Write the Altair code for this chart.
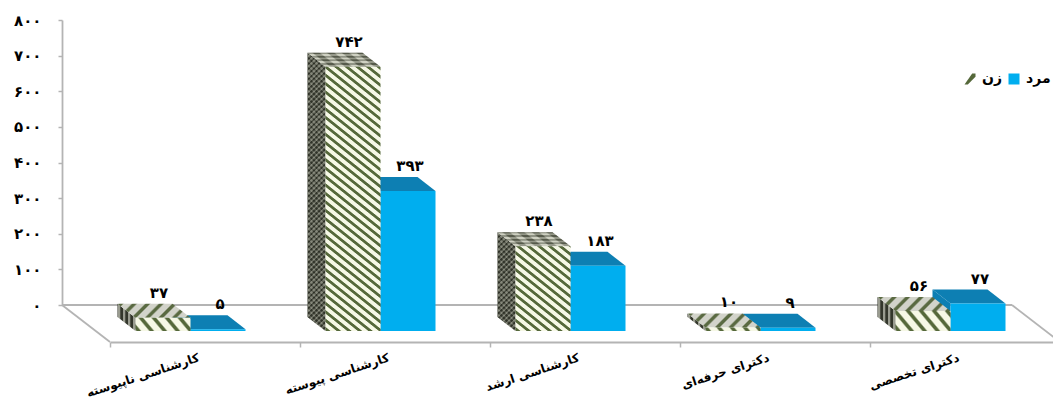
import json, math
import altair as alt
import pandas as pd

categories = ["کارشناسی ناپیوسته", "کارشناسی پیوسته", "کارشناسی ارشد", "دکترای حرفه‌ای", "دکترای تخصصی"]
women = [37, 742, 238, 10, 56]
men = [5, 393, 183, 9, 77]
y_ticks = [0, 100, 200, 300, 400, 500, 600, 700, 800]
series_names = ["زن", "مرد"]
tall = [False, True, True, False, False]

FONT = "DejaVu Sans"
BLUE, BLUE_DARK = "#00aeef", "#0d7fb3"
AXIS_GRAY = "#b4b4b4"
PX_X, PX_Y = 190.0, 0.356           # pixels per category, pixels per unit
BW = 55 / PX_X                      # bar width
SHIFT = 80.5 / PX_X                 # group centre after the tick
DX, DY = 18 / PX_X, 14 / PX_Y       # bar depth
FLOOR_DX, FLOOR_TOP = 48 / PX_X, 26 / PX_Y

fa = str.maketrans("0123456789", "۰۱۲۳۴۵۶۷۸۹")
X_SCALE = alt.Scale(domain=[0, 5], range=[102, 1052], nice=False, zero=False)
Y_SCALE = alt.Scale(domain=[0, 800], range=[323, 38.2], nice=False, zero=False)
X = lambda f="x": alt.X(f"{f}:Q", scale=X_SCALE, axis=None)
Y = lambda f="y": alt.Y(f"{f}:Q", scale=Y_SCALE, axis=None)


def stripes(w, h, d, period, c1, c2, duty=0.5, soft=0.14):
    dx, dy = d
    length = math.hypot(dx, dy)
    span = (w * abs(dy) + h * abs(dx)) / length
    periods = span / period
    nx, ny = dy / h, -dx / w
    m = math.hypot(nx, ny)
    nx, ny = nx / m, ny / m
    s = abs(nx) + abs(ny)
    stops = []
    for k in range(math.ceil(periods)):
        for off, col in ((0, c1), (soft, c2), (duty, c2), (duty + soft, c1)):
            o = min((k + off) / periods, 1)
            stops.append(alt.GradientStop(color=col, offset=o))
    return alt.LinearGradient(
        gradient="linear", stops=stops,
        x1=0.5 - nx * s / 2, y1=0.5 - ny * s / 2, x2=0.5 + nx * s / 2, y2=0.5 + ny * s / 2,
    )


def edges(i, side):
    c = i + SHIFT
    return (c - BW, c) if side == 0 else (c, c + BW)


def front(i, v, side):
    l, r = edges(i, side)
    return pd.DataFrame({"x": [l], "x2": [r], "y": [v], "y2": [0]})


def side_face(i, v, side):
    l, _ = edges(i, side)
    return pd.DataFrame({"x": [l - DX, l], "y": [v + DY, v], "y2": [DY, 0]})


def top_face(i, v, side):
    l, r = edges(i, side)
    return pd.DataFrame({"y": [v + DY, v], "x": [l - DX, l], "x2": [r - DX, r]})


def bar_mark(df, fill):
    return alt.Chart(df).mark_bar(color=fill).encode(x=X(), x2="x2:Q", y=Y(), y2="y2:Q")


def side_mark(df, fill, opacity=1):
    return alt.Chart(df).mark_area(color=fill, opacity=opacity).encode(x=X(), y=Y(), y2="y2:Q")


def top_mark(df, fill, opacity=1):
    return alt.Chart(df).mark_area(color=fill, orient="horizontal", opacity=opacity).encode(y=Y(), x=X(), x2="x2:Q")


layers = []

# floor outline: back edge and the two side edges
fl = FLOOR_DX
floor = pd.DataFrame({
    "x": [-fl, -fl, 5 - fl],
    "x2": [5 - fl, 0, 5],
    "y": [FLOOR_TOP, FLOOR_TOP, FLOOR_TOP],
    "y2": [FLOOR_TOP, -11 / PX_Y, -11 / PX_Y],
})
layers.append(alt.Chart(floor).mark_rule(color=AXIS_GRAY, strokeWidth=1.8).encode(
    x=X(), x2="x2:Q", y=Y(), y2="y2:Q"))

# real axes
axis_df = pd.DataFrame({"u": [0, 1, 2, 3, 4, 5, 5, 5, 5], "t": y_ticks})
labels_expr = json.dumps([str(t).translate(fa) for t in y_ticks], ensure_ascii=False)
layers.append(alt.Chart(axis_df).mark_point(size=0, opacity=0).encode(
    x=alt.X("u:Q", scale=X_SCALE, axis=alt.Axis(
        title=None, labels=False, grid=False, values=[0, 1, 2, 3, 4, 5], orient="bottom", offset=-65,
        domainColor=AXIS_GRAY, tickColor=AXIS_GRAY, domainWidth=1.8, tickWidth=1.5, tickSize=5)),
    y=alt.Y("t:Q", scale=alt.Scale(domain=[0, 800], range=[297, 12], nice=False, zero=False), axis=alt.Axis(
        title=None, grid=False, values=y_ticks, orient="left", offset=-54, labelExpr=f"{labels_expr}[datum.value/100]",
        domainColor=AXIS_GRAY, tickColor=AXIS_GRAY, domainWidth=1.8, tickWidth=1.5, tickSize=4,
        labelPadding=17, labelFont=FONT, labelFontSize=15, labelFontWeight="bold", labelColor="black")),
))

# men's bars, behind
for i, v in enumerate(men):
    layers.append(side_mark(side_face(i, v, 1), BLUE_DARK))
    layers.append(top_mark(top_face(i, v, 1), BLUE_DARK))
    layers.append(bar_mark(front(i, v, 1), BLUE))

# women's bars, textured
LIGHT, GREEN = "#f6f8e6", "#55683a"
for i, v in enumerate(women):
    h = max(v * PX_Y, 3)
    if tall[i]:
        layers.append(side_mark(side_face(i, v, 0), stripes(18, h + 14, (1, 1), 3.6, "#2f3228", "#6f7265")))
        layers.append(side_mark(side_face(i, v, 0), stripes(18, h + 14, (1, -1), 3.6, "#2f3228", "#a4a698"), 0.45))
        layers.append(top_mark(top_face(i, v, 0), stripes(73, 14, (1, 0), 3.6, "#565a4b", "#c8cabb")))
        layers.append(top_mark(top_face(i, v, 0), stripes(73, 14, (18, 14), 9, "#565a4b", "#d6d8ca"), 0.45))
        layers.append(bar_mark(front(i, v, 0), stripes(55, h, (1, 0.8), 6.6, LIGHT, GREEN, 0.42, 0.12)))
    else:
        layers.append(side_mark(side_face(i, v, 0), stripes(18, h + 14, (0, 1), 5, "#33362b", "#9a9c90")))
        layers.append(top_mark(top_face(i, v, 0), stripes(73, 14, (-1, 1), 9.5, "#d2d3ca", "#5a6a42", 0.36)))
        layers.append(bar_mark(front(i, v, 0), stripes(55, h, (1, 1.2), 10, LIGHT, GREEN, 0.36)))

# value labels
rows = []
for i, (w, m) in enumerate(zip(women, men)):
    c = i + SHIFT
    rows.append({"x": c - BW / 2 - 4 / PX_X, "y": w, "t": str(w).translate(fa)})
    rows.append({"x": c + BW / 2 + 2 / PX_X, "y": m, "t": str(m).translate(fa)})
layers.append(alt.Chart(pd.DataFrame(rows)).mark_text(
    font=FONT, fontSize=15, fontWeight="bold", color="black", dy=-25, baseline="middle").encode(
    x=X(), y=Y(), text="t:N"))

# category labels
cat_df = pd.DataFrame({"x": [i + 0.5 for i in range(5)], "y": [0] * 5, "t": categories})
layers.append(alt.Chart(cat_df).mark_text(
    font=FONT, fontSize=12, fontWeight="bold", color="black", align="right", baseline="middle",
    angle=342, dy=23, dx=-14).encode(x=X(), y=Y(), text="t:N"))

# legends
leg_df = pd.DataFrame({"x": [0, 0], "y": [0, 0], "s": series_names})
leg_common = dict(title=None, orient="none", labelFont=FONT, labelFontSize=14, labelFontWeight="bold",
                  labelColor="black", symbolStrokeWidth=0, symbolOpacity=1, labelOpacity=1, labelOffset=5)
layers.append(alt.Chart(leg_df.iloc[[1]]).mark_point(size=0, filled=True).encode(
    x=X(), y=Y(),
    color=alt.Color("s:N", scale=alt.Scale(domain=[series_names[1]], range=[BLUE]), legend=alt.Legend(
        legendX=999, legendY=64, symbolType="square", symbolSize=121, **leg_common))))
layers.append(alt.Chart(leg_df.iloc[[0]]).mark_point(size=0, filled=True).encode(
    x=X(), y=Y(),
    fill=alt.Fill("s:N", scale=alt.Scale(domain=[series_names[0]], range=[GREEN]), legend=alt.Legend(
        legendX=955, legendY=64, symbolType="M-1,1L0.4,-1L1,-1L1,-0.4L-0.4,1Z", symbolSize=121, **leg_common))))

chart = alt.layer(*layers).resolve_scale(x="independent", y="independent").properties(
    width=1045, height=399, padding=0, autosize="none", background="white",
).configure_view(stroke=None)

chart.save("out.html", embed_options={"renderer": "svg", "actions": False})
